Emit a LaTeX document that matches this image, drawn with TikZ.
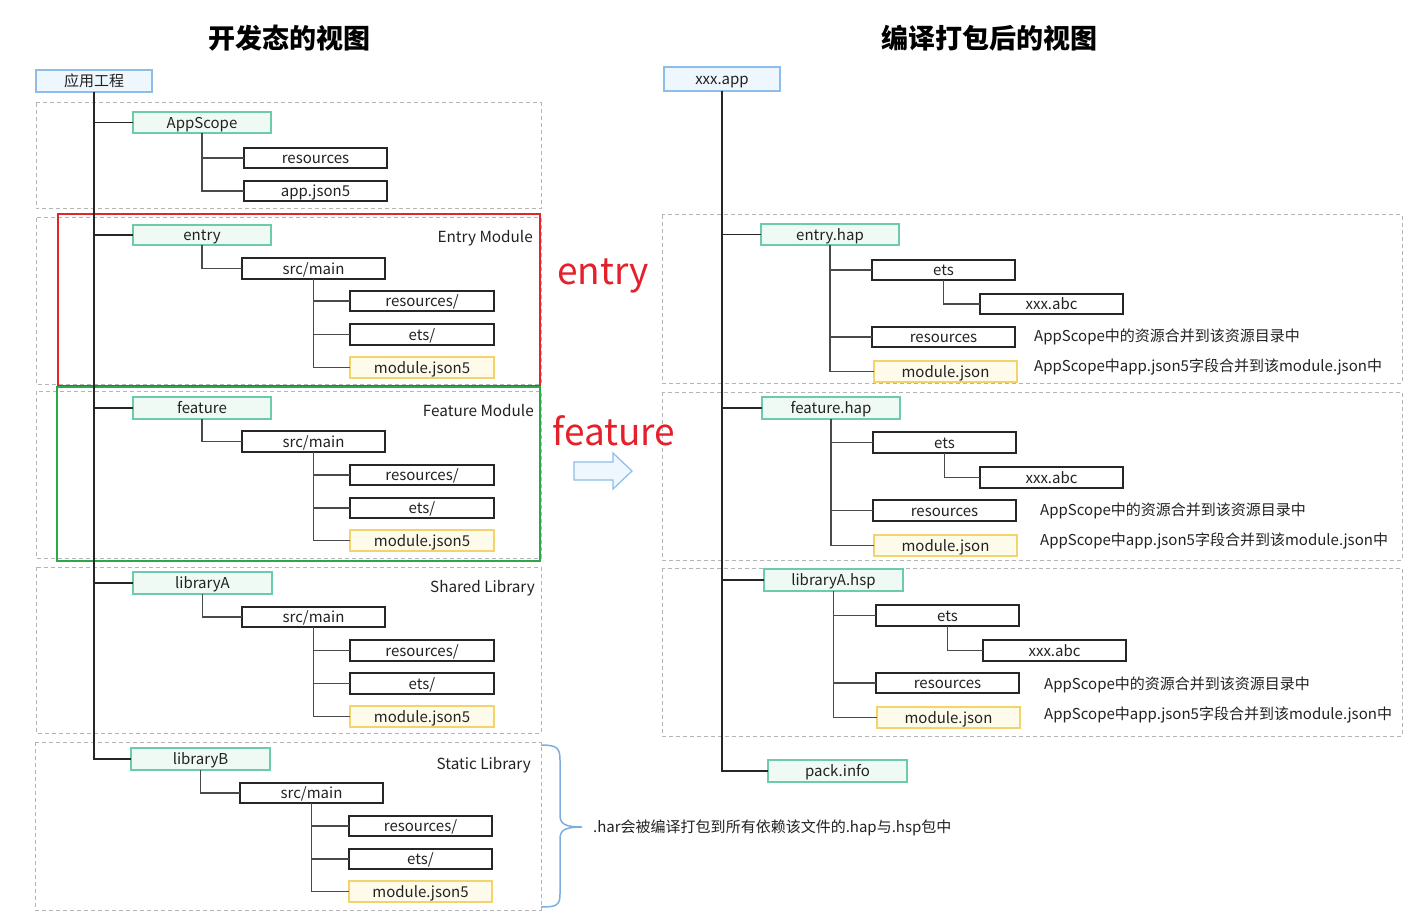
\documentclass[tikz,border=0pt]{standalone}
\usepackage{fontspec}
\setmainfont{Noto Sans CJK SC}
\definecolor{bluebd}{HTML}{8DBDE8}
\definecolor{bluefill}{HTML}{EEF7FD}
\definecolor{greenbd}{HTML}{6CCBAA}
\definecolor{greenfill}{HTML}{EFFAF5}
\definecolor{yellowbd}{HTML}{F3D36B}
\definecolor{yellowfill}{HTML}{FFFBEA}
\definecolor{dashgray}{HTML}{B5B5B5}
\definecolor{redframe}{HTML}{E3242B}
\definecolor{greenframe}{HTML}{2BA84A}
\definecolor{linegray}{HTML}{4A4A4A}
\definecolor{txt}{HTML}{222222}
\definecolor{bracecol}{HTML}{7BAEDF}
\definecolor{redtxt}{HTML}{E5202A}
\newcommand\fbx[7]{\node[#1, minimum width={(#5)-(#3)}, minimum height={(#6)-(#4)}] (#2) at ({((#3)+(#5))/2},{((#4)+(#6))/2}) {#7};}
\tikzset{
  base/.style={inner sep=0pt, outer sep=0pt, text=txt, text height=13pt, text depth=1.5pt, font=\fontsize{15}{15}\selectfont},
  plainbox/.style={base, draw=black!85, line width=1.3pt, fill=white},
  rootbox/.style={base, draw=bluebd, line width=1.3pt, fill=bluefill},
  modbox/.style={base, draw=greenbd, line width=1.3pt, fill=greenfill},
  cfgbox/.style={base, draw=yellowbd, line width=1.3pt, fill=yellowfill},
  group/.style={draw=dashgray, line width=1pt, dash pattern=on 4pt off 3pt},
  conn/.style={draw=linegray, line width=1.5pt},
  trunk/.style={draw=black!85, line width=1.5pt},
  grplabel/.style={anchor=east, inner sep=0pt, text=txt, text height=12pt, text depth=2pt, font=\fontsize{15.3}{15.3}\selectfont},
  note/.style={anchor=west, inner sep=0pt, text=txt, text height=12pt, text depth=2pt, font=\fontsize{15}{15}\selectfont},
  title/.style={inner sep=0pt, text=black, font=\fontsize{27}{27}\selectfont\bfseries},
  bigred/.style={inner sep=0pt, text=redtxt, font=\fontsize{37}{37}\selectfont}
}
\begin{document}
\begin{tikzpicture}[x=1pt,y=-1pt]
\useasboundingbox (0,0) rectangle (1412,917);
\fill[white] (0,0) rectangle (1412,917);
% titles
\node[title] (t1) at (289,38) {开发态的视图};
\node[title] (t2) at (989,38) {编译打包后的视图};
% dashed groups left
\draw[group] (36,103) rectangle (541,209);
\draw[group] (36,218) rectangle (541,384);
\draw[group] (36,391) rectangle (541,558);
\draw[group] (36,567) rectangle (541,733);
\draw[group] (35,742) rectangle (541,910);
% dashed groups right
\draw[group] (662,215) rectangle (1402,383);
\draw[group] (662,392) rectangle (1402,560);
\draw[group] (662,568) rectangle (1402,736);
% frames
\draw[redframe, line width=2pt] (58,214) rectangle (540,386);
\draw[greenframe, line width=2pt] (57,387) rectangle (540,561);
% ---------------- left tree ----------------
\fbx{rootbox}{root}{36}{70}{152}{92}{应用工程}
\fbx{modbox}{appscope}{133}{112}{271}{133}{AppScope}
\fbx{plainbox}{asres}{244}{148}{387}{168}{resources}
\fbx{plainbox}{asjson}{244}{181}{387}{201}{app.json5}
% entry
\fbx{modbox}{entry}{133}{225}{271}{245}{entry}
\fbx{plainbox}{esrc}{242}{258}{385}{279}{src/main}
\fbx{plainbox}{eres}{350}{291}{494}{311}{resources/}
\fbx{plainbox}{eets}{350}{324}{494}{345}{ets/}
\fbx{cfgbox}{ejson}{350}{357}{494}{378}{module.json5}
\node[grplabel] (elab) at (533,238) {Entry Module};
% feature
\fbx{modbox}{feature}{133}{397}{271}{419}{feature}
\fbx{plainbox}{fsrc}{242}{431}{385}{452}{src/main}
\fbx{plainbox}{fres}{350}{465}{494}{485}{resources/}
\fbx{plainbox}{fets}{350}{498}{494}{518}{ets/}
\fbx{cfgbox}{fjson}{350}{530}{494}{551}{module.json5}
\node[grplabel] (flab) at (534,411) {Feature Module};
% libraryA
\fbx{modbox}{liba}{133}{572}{272}{594}{libraryA}
\fbx{plainbox}{asrc}{242}{607}{385}{627}{src/main}
\fbx{plainbox}{ares}{350}{640}{494}{661}{resources/}
\fbx{plainbox}{aets}{350}{673}{494}{694}{ets/}
\fbx{cfgbox}{ajson}{350}{706}{494}{727}{module.json5}
\node[grplabel] (alab) at (535,587) {Shared Library};
% libraryB
\fbx{modbox}{libb}{131}{748}{270}{770}{libraryB}
\fbx{plainbox}{bsrc}{240}{783}{383}{803}{src/main}
\fbx{plainbox}{bres}{349}{816}{492}{836}{resources/}
\fbx{plainbox}{bets}{349}{849}{492}{869}{ets/}
\fbx{cfgbox}{bjson}{349}{881}{492}{902}{module.json5}
\node[grplabel] (blab) at (531,764) {Static Library};
% left connectors
\draw[trunk] (root.south) |- (appscope.west);
\draw[trunk] (root.south) |- (entry.west);
\draw[trunk] (root.south) |- (feature.west);
\draw[trunk] (root.south) |- (liba.west);
\draw[trunk] (root.south) |- (libb.west);
\draw[conn] (appscope.south) |- (asres.west);
\draw[conn] (appscope.south) |- (asjson.west);
\foreach \p in {e,f,a,b}{
  \draw[conn] (\p src.south) |- (\p res.west);
  \draw[conn] (\p src.south) |- (\p ets.west);
  \draw[conn] (\p src.south) |- (\p json.west);
}
\draw[conn] (entry.south) |- (esrc.west);
\draw[conn] (feature.south) |- (fsrc.west);
\draw[conn] (liba.south) |- (asrc.west);
\draw[conn] (libb.south) |- (bsrc.west);
% ---------------- right tree ----------------
\fbx{rootbox}{app}{664}{67}{780}{91}{xxx.app}
% entry.hap
\fbx{modbox}{rentry}{761}{224}{899}{245}{entry.hap}
\fbx{plainbox}{r1ets}{872}{260}{1015}{280}{ets}
\fbx{plainbox}{r1abc}{980}{294}{1123}{314}{xxx.abc}
\fbx{plainbox}{r1res}{872}{327}{1015}{347}{resources}
\fbx{cfgbox}{r1json}{874}{361}{1017}{382}{module.json}
\node[note] (n1a) at (1034,336) {AppScope中的资源合并到该资源目录中};
\node[note] (n1b) at (1034,366) {AppScope中app.json5字段合并到该module.json中};
% feature.hap
\fbx{modbox}{rfeature}{762}{397}{900}{419}{feature.hap}
\fbx{plainbox}{r2ets}{873}{432}{1016}{453}{ets}
\fbx{plainbox}{r2abc}{980}{467}{1123}{488}{xxx.abc}
\fbx{plainbox}{r2res}{873}{500}{1016}{521}{resources}
\fbx{cfgbox}{r2json}{874}{535}{1017}{556}{module.json}
\node[note] (n2a) at (1040,510) {AppScope中的资源合并到该资源目录中};
\node[note] (n2b) at (1040,540) {AppScope中app.json5字段合并到该module.json中};
% libraryA.hsp
\fbx{modbox}{rliba}{764}{569}{903}{591}{libraryA.hsp}
\fbx{plainbox}{r3ets}{876}{605}{1019}{626}{ets}
\fbx{plainbox}{r3abc}{983}{640}{1126}{661}{xxx.abc}
\fbx{plainbox}{r3res}{876}{673}{1019}{693}{resources}
\fbx{cfgbox}{r3json}{877}{707}{1020}{728}{module.json}
\node[note] (n3a) at (1044,684) {AppScope中的资源合并到该资源目录中};
\node[note] (n3b) at (1044,714) {AppScope中app.json5字段合并到该module.json中};
% pack.info
\fbx{modbox}{pack}{768}{760}{907}{782}{pack.info}
% right connectors
\draw[trunk] (app.south) |- (rentry.west);
\draw[trunk] (app.south) |- (rfeature.west);
\draw[trunk] (app.south) |- (rliba.west);
\draw[trunk] (app.south) |- (pack.west);
\draw[conn] (rentry.south) |- (r1ets.west);
\draw[conn] (rentry.south) |- (r1res.west);
\draw[conn] (rentry.south) |- (r1json.west);
\draw[conn] (r1ets.south) |- (r1abc.west);
\draw[conn] (rfeature.south) |- (r2ets.west);
\draw[conn] (rfeature.south) |- (r2res.west);
\draw[conn] (rfeature.south) |- (r2json.west);
\draw[conn] (r2ets.south) |- (r2abc.west);
\draw[conn] (rliba.south) |- (r3ets.west);
\draw[conn] (rliba.south) |- (r3res.west);
\draw[conn] (rliba.south) |- (r3json.west);
\draw[conn] (r3ets.south) |- (r3abc.west);
% big labels
\node[bigred] (bentry) at (603,276) {entry};
\node[bigred] (bfeature) at (614,431) {feature};
% hollow arrow
\draw[draw=bluebd, fill=bluefill, line width=1.2pt, line join=miter]
  (574,462) -- (613,462) -- (613,453) -- (632,471) -- (613,489) -- (613,480) -- (574,480) -- cycle;
% brace
\coordinate (btip) at (582,827);
\draw[bracecol, line width=1.5pt]
  (541,745) .. controls (557,745) and (560,748) .. (560,760) -- (560,815)
  .. controls (560,824) and (565,827) .. (btip)
  .. controls (565,827) and (560,830) .. (560,839) -- (560,894)
  .. controls (560,905) and (557,907) .. (541,907);
\node[note] (harnote) at (593,827) {.har会被编译打包到所有依赖该文件的.hap与.hsp包中};
\end{tikzpicture}
\end{document}
